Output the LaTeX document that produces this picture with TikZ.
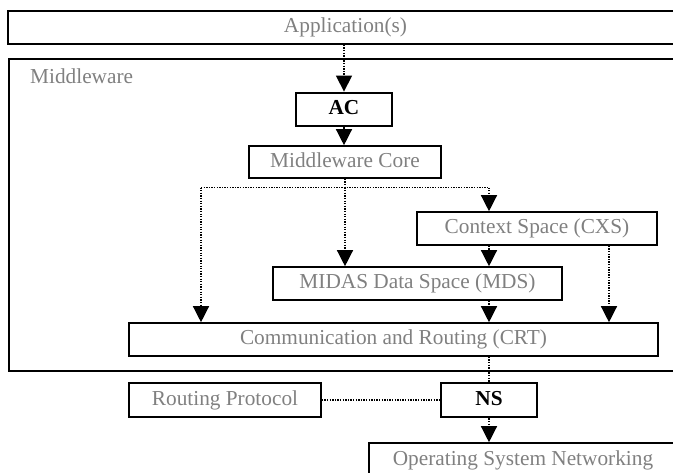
\documentclass[tikz,border=0pt]{standalone}
\usepackage{fontspec}
\setmainfont{Liberation Serif}
\usetikzlibrary{arrows.meta}
\begin{document}
\begin{tikzpicture}[x=1pt, y=-1pt,
  labelfont/.style={font=\fontsize{21.3pt}{24pt}\selectfont},
  box/.style={draw, line width=1.6pt, inner sep=0pt, labelfont, text=black!50,
    text height=15pt, text depth=4.7pt},
  boldbox/.style={box, line width=2.8pt, text=black,
    font=\fontsize{21.3pt}{24pt}\selectfont\bfseries},
  dotline/.style={line width=1.3pt, dash pattern=on 1.3pt off 1.3pt},
  conn/.style={dotline, -{Triangle[width=16pt,length=16pt]}}]
\useasboundingbox (0,0) rectangle (673,472);

% layers
\node[box, minimum width=675pt, minimum height=33pt] (app) at (345.5,27.5) {Application(s)};
\node[box, minimum width=681pt, minimum height=312pt] (mw) at (349.5,215) {};
\node[anchor=base west, labelfont, text=black!50, inner sep=0pt] (mwlabel) at (30,83) {Middleware};

% middleware components
\node[boldbox, minimum width=96pt, minimum height=33pt] (ac) at (344,109.5) {AC};
\node[box, minimum width=192pt, minimum height=32pt] (core) at (345,162) {Middleware Core};
\node[box, minimum width=240pt, minimum height=33pt] (cxs) at (537,228.5) {Context Space (CXS)};
\node[box, minimum width=289pt, minimum height=33pt] (mds) at (417.5,283.5) {MIDAS Data Space (MDS)};
\node[box, minimum width=529pt, minimum height=33pt] (crt) at (393.5,339.5) {Communication and Routing (CRT)};

% below the middleware
\node[box, minimum width=192pt, minimum height=34pt] (rp) at (225,400) {Routing Protocol};
\node[boldbox, minimum width=96pt, minimum height=34pt] (ns) at (489,400) {NS};
\node[box, minimum width=308pt, minimum height=34pt] (os) at (523,460) {Operating System Networking};

% branch points under the core
\coordinate (jl) at (201,187.5);
\coordinate (jm) at (345,187.5);
\coordinate (jr) at (489,187.5);
\coordinate (xr) at (609,0);

% connectors
\draw[conn] (ac.north |- app.south) -- (ac.north);
\draw[conn] (ac.south) -- (ac.south |- core.north);
\draw[dotline] (core.south) -- (jm);
\draw[dotline] (jl) -- (jr);
\draw[conn] (jm) -- (jm |- mds.north);
\draw[conn] (jl) -- (jl |- crt.north);
\draw[conn] (jr) -- (jr |- cxs.north);
\draw[conn] (jr |- cxs.south) -- (jr |- mds.north);
\draw[conn] (jr |- mds.south) -- (jr |- crt.north);
\draw[conn] (xr |- cxs.south) -- (xr |- crt.north);
\draw[dotline] (ns.north |- crt.south) -- (ns.north);
\draw[dotline] (rp.east) -- (ns.west);
\draw[conn] (ns.south) -- (ns.south |- os.north);
\end{tikzpicture}
\end{document}
